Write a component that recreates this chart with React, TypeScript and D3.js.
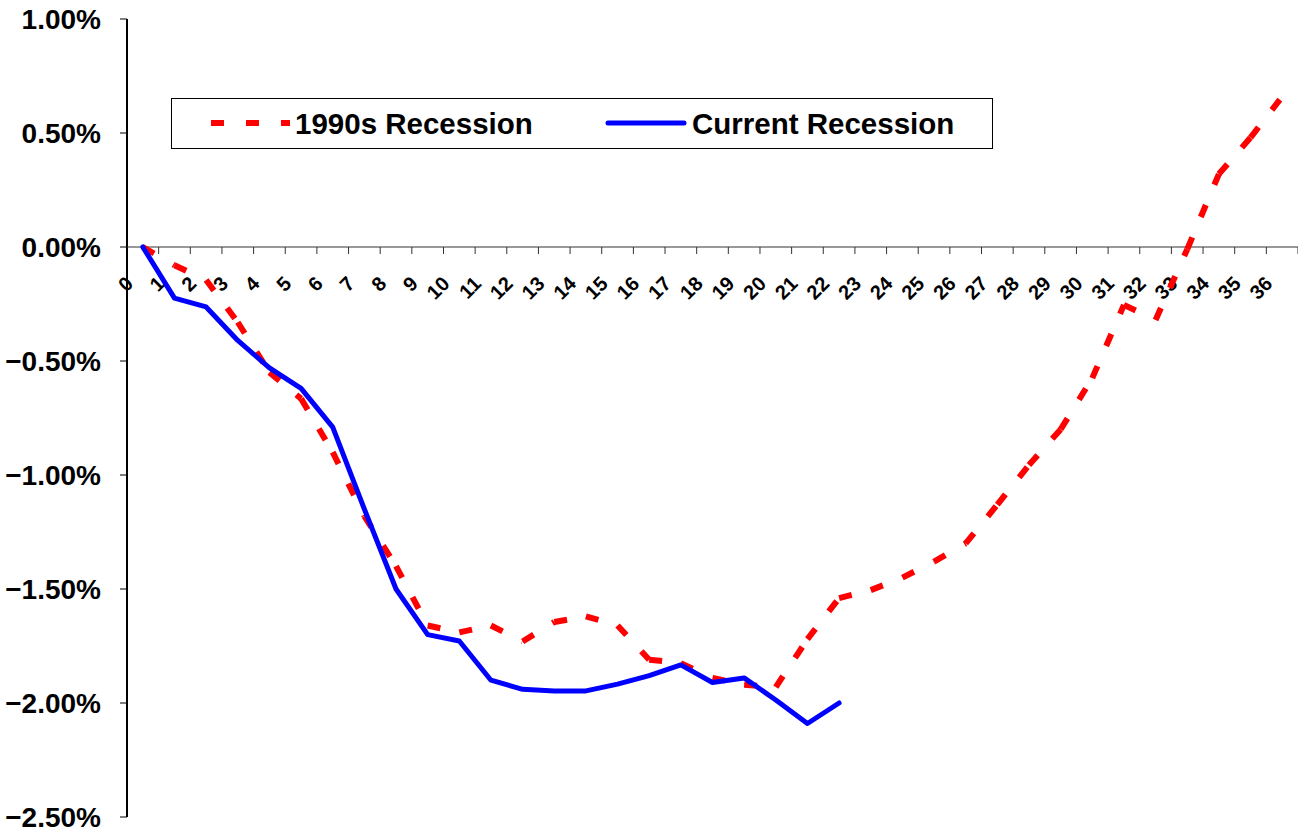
import React from 'react';
import * as d3 from 'd3';

// months since start of recession
const months = [
  '0', '1', '2', '3', '4', '5', '6', '7', '8', '9', '10', '11', '12',
  '13', '14', '15', '16', '17', '18', '19', '20', '21', '22', '23', '24',
  '25', '26', '27', '28', '29', '30', '31', '32', '33', '34', '35', '36',
];

// % change in employment, 1990s recession
const recession1990s = [
  0, -0.08, -0.145, -0.33, -0.55, -0.665, -0.9, -1.18, -1.4, -1.66, -1.69,
  -1.66, -1.73, -1.645, -1.62, -1.66, -1.81, -1.825, -1.89, -1.92, -1.93,
  -1.72, -1.54, -1.505, -1.45, -1.38, -1.3, -1.13, -0.956, -0.8, -0.575,
  -0.254, -0.32, -0.01, 0.32, 0.48, 0.66,
];

// % change in employment, current recession
const currentRecession = [
  0, -0.224, -0.263, -0.41, -0.53, -0.62, -0.79, -1.15, -1.5, -1.7, -1.728,
  -1.9, -1.94, -1.947, -1.947, -1.917, -1.88, -1.833, -1.91, -1.89, -1.987,
  -2.09, -2.0,
];

const yTicks = [1, 0.5, 0, -0.5, -1, -1.5, -2, -2.5];

const W = 1298;
const H = 833;
const FONT = '"Liberation Sans", Arial, sans-serif';

export default function App() {
  const left = 127;
  const right = 1298;
  const top = 19;
  const bottom = 817;

  const x = d3.scaleBand<string>().domain(months).range([left, right]);
  const y = d3.scaleLinear().domain([-2.5, 1]).range([bottom, top]);
  const cx = (i: number) => (x(months[i]) as number) + x.bandwidth() / 2;
  const y0 = y(0);

  const line = d3
    .line<number>()
    .x((d, i) => cx(i))
    .y((d) => y(d));

  // dashes restart at every data point, as in the original
  const segment = d3
    .line<[number, number]>()
    .x((d) => cx(d[0]))
    .y((d) => y(d[1]));
  const redSegments = recession1990s.slice(1).map((v, i) =>
    segment([
      [i, recession1990s[i]],
      [i + 1, v],
    ])
  );

  const fmt = d3.format('.2f');

  return (
    <div style={{ position: 'fixed', left: 0, top: 0 }}>
      <svg width={W} height={H} style={{ display: 'block', background: '#fff' }}>
        {/* y axis */}
        <line x1={left} x2={left} y1={top} y2={bottom} stroke="#000" strokeWidth={2} />
        {yTicks.map((t) => (
          <g key={t}>
            <line x1={left - 7} x2={left} y1={y(t)} y2={y(t)} stroke="#000" strokeWidth={1} />
            <text
              x={101}
              y={y(t)}
              dy="0.36em"
              textAnchor="end"
              fontFamily={FONT}
              fontWeight="bold"
              fontSize={28}
            >
              {fmt(t) + '%'}
            </text>
          </g>
        ))}

        {/* x axis at zero */}
        <line x1={left} x2={right} y1={y0} y2={y0} stroke="#333" strokeWidth={1} />
        {months.map((m) => (
          <line
            key={'t' + m}
            x1={(x(m) as number) + x.bandwidth()}
            x2={(x(m) as number) + x.bandwidth()}
            y1={y0}
            y2={y0 + 7}
            stroke="#333"
            strokeWidth={1}
          />
        ))}
        {months.map((m, i) => (
          <text
            key={'l' + m}
            transform={`translate(${cx(i) - 8.5},${y0 + 38}) rotate(-45)`}
            textAnchor="end"
            fontFamily={FONT}
            fontWeight="bold"
            fontSize={20}
          >
            {m}
          </text>
        ))}

        {/* series */}
        {redSegments.map((d, i) => (
          <path
            key={'r' + i}
            d={d as string}
            fill="none"
            stroke="#ff0000"
            strokeWidth={6}
            strokeDasharray="13 22"
          />
        ))}
        <path
          d={line(currentRecession) as string}
          fill="none"
          stroke="#0000ff"
          strokeWidth={5}
          strokeLinejoin="round"
          strokeLinecap="round"
        />

        {/* legend */}
        <rect x={171.5} y={98.5} width={821} height={50} fill="#fff" stroke="#000" strokeWidth={1} />
        <line x1={211} x2={290} y1={123} y2={123} stroke="#ff0000" strokeWidth={6} strokeDasharray="13 22" />
        <text x={295} y={133.5} fontFamily={FONT} fontWeight="bold" fontSize={29.5}>
          1990s Recession
        </text>
        <line
          x1={608}
          x2={684}
          y1={123}
          y2={123}
          stroke="#0000ff"
          strokeWidth={5}
          strokeLinecap="round"
        />
        <text x={692} y={133.5} fontFamily={FONT} fontWeight="bold" fontSize={29.5}>
          Current Recession
        </text>
      </svg>
    </div>
  );
}
